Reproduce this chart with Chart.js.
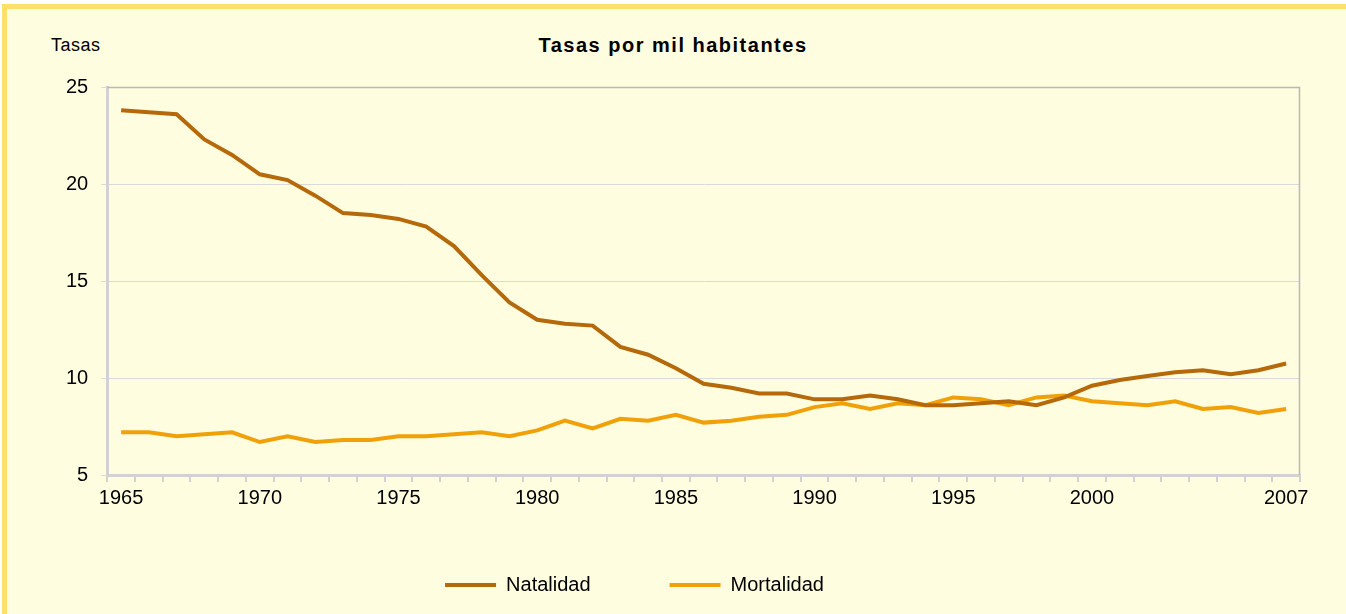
<!DOCTYPE html>
<html>
<head>
<meta charset="utf-8">
<script src="https://cdn.jsdelivr.net/npm/chart.js"></script>
<style>
  body { margin: 0; background: #fff; }
  #wrap { position: relative; width: 1346px; height: 614px; overflow: hidden; background: #fff; }
  #frame { position: absolute; left: 2px; top: 4px; width: 1339px; height: 620px;
           border: 5px solid #FCE06A; background: #FFFDE0; }
  #chart { position: absolute; left: 0; top: 0; }
  .lbl { position: absolute; font-family: "Liberation Sans", Arial, sans-serif; color: #000; white-space: nowrap; }
  #ytitle { left: 51px; top: 35px; font-size: 18px; letter-spacing: 0.5px; }
  #title { left: 0; width: 1346px; text-align: center; top: 34px; font-size: 20px; font-weight: bold; letter-spacing: 1.5px; }
</style>
</head>
<body>
<div id="wrap">
  <div id="frame"></div>
  <div class="lbl" id="ytitle">Tasas</div>
  <div class="lbl" id="title">Tasas por mil habitantes</div>
  <canvas id="chart" width="1346" height="614"></canvas>
</div>
<script>
// Tasas por mil habitantes, 1965-2007
const years = [];
for (let y = 1965; y <= 2007; y++) years.push(String(y));

const natalidad = [
  23.8, 23.7, 23.6, 22.3, 21.5, 20.5, 20.2, 19.4, 18.5, 18.4,
  18.2, 17.8, 16.8, 15.3, 13.9, 13.0, 12.8, 12.7, 11.6, 11.2,
  10.5, 9.7, 9.5, 9.2, 9.2, 8.9, 8.9, 9.1, 8.9, 8.6,
  8.6, 8.7, 8.8, 8.6, 9.0, 9.6, 9.9, 10.1, 10.3, 10.4,
  10.2, 10.4, 10.75
];

const mortalidad = [
  7.2, 7.2, 7.0, 7.1, 7.2, 6.7, 7.0, 6.7, 6.8, 6.8,
  7.0, 7.0, 7.1, 7.2, 7.0, 7.3, 7.8, 7.4, 7.9, 7.8,
  8.1, 7.7, 7.8, 8.0, 8.1, 8.5, 8.7, 8.4, 8.7, 8.6,
  9.0, 8.9, 8.6, 9.0, 9.1, 8.8, 8.7, 8.6, 8.8, 8.4,
  8.5, 8.2, 8.4
];

const shownYears = ['1965', '1970', '1975', '1980', '1985', '1990', '1995', '2000', '2007'];
const yTicks = [5, 10, 15, 20, 25];

const FONT = '"Liberation Sans", Arial, sans-serif';

const plotBox = {
    id: 'plotBox',
    // top + right edges of the plot box
    beforeDatasetsDraw(chart) {
        const a = chart.chartArea, ctx = chart.ctx;
        ctx.save();
        ctx.strokeStyle = '#B9B9B9';
        ctx.lineWidth = 1.5;
        ctx.beginPath();
        ctx.moveTo(a.left, a.top + 0.5);
        ctx.lineTo(a.right - 0.5, a.top + 0.5);
        ctx.lineTo(a.right - 0.5, a.bottom);
        ctx.stroke();
        ctx.restore();
    },
    // legend sits lower and a bit left of centre in the original
    afterLayout(chart) {
        const lg = chart.legend;
        lg.top = 496;
        lg.bottom = 614;
        lg.height = lg.bottom - lg.top;
        lg.right -= 84;
    }
};

new Chart(document.getElementById('chart'), {
    type: 'line',
    data: {
        labels: years,
        datasets: [{
            label: 'Natalidad',
            data: natalidad,
            borderColor: '#B5690A',
            backgroundColor: '#B5690A',
            borderWidth: 4,
            pointRadius: 0,
            tension: 0
        }, {
            label: 'Mortalidad',
            data: mortalidad,
            borderColor: '#F0A008',
            backgroundColor: '#F0A008',
            borderWidth: 4,
            pointRadius: 0,
            tension: 0
        }]
    },
    options: {
        responsive: false,
        devicePixelRatio: 1,
        animation: false,
        layout: { padding: { top: 87, left: 53, right: 46, bottom: 69 } },
        plugins: {
            title: { display: false },
            tooltip: { enabled: false },
            legend: {
                position: 'bottom',
                maxHeight: 30,
                labels: {
                    usePointStyle: true,
                    pointStyle: 'line',
                    pointStyleWidth: 51,
                    padding: 79,
                    color: '#000',
                    font: { family: FONT, size: 20 }
                }
            }
        },
        scales: {
            x: {
                offset: true,
                grid: { offset: true, drawOnChartArea: false, drawTicks: true, tickLength: 7, color: '#D2D2D2', lineWidth: 2 },
                border: { color: '#D2D2D2', width: 3 },
                ticks: {
                    autoSkip: false,
                    maxRotation: 0,
                    padding: 4,
                    color: '#000',
                    font: { family: FONT, size: 20 },
                    callback: function (v) {
                        const lab = this.getLabelForValue(v);
                        return shownYears.includes(lab) ? lab : '';
                    }
                },
                afterFit(scale) { scale.height = 40; }
            },
            y: {
                min: 5,
                max: 25,
                afterBuildTicks(scale) { scale.ticks = yTicks.map(v => ({ value: v })); },
                grid: { color: '#DADADA', lineWidth: 1, tickLength: 6 },
                border: { color: '#D2D2D2', width: 3 },
                ticks: {
                    padding: 13,
                    color: '#000',
                    font: { family: FONT, size: 20 }
                }
            }
        }
    },
    plugins: [plotBox]
});
</script>
</body>
</html>
